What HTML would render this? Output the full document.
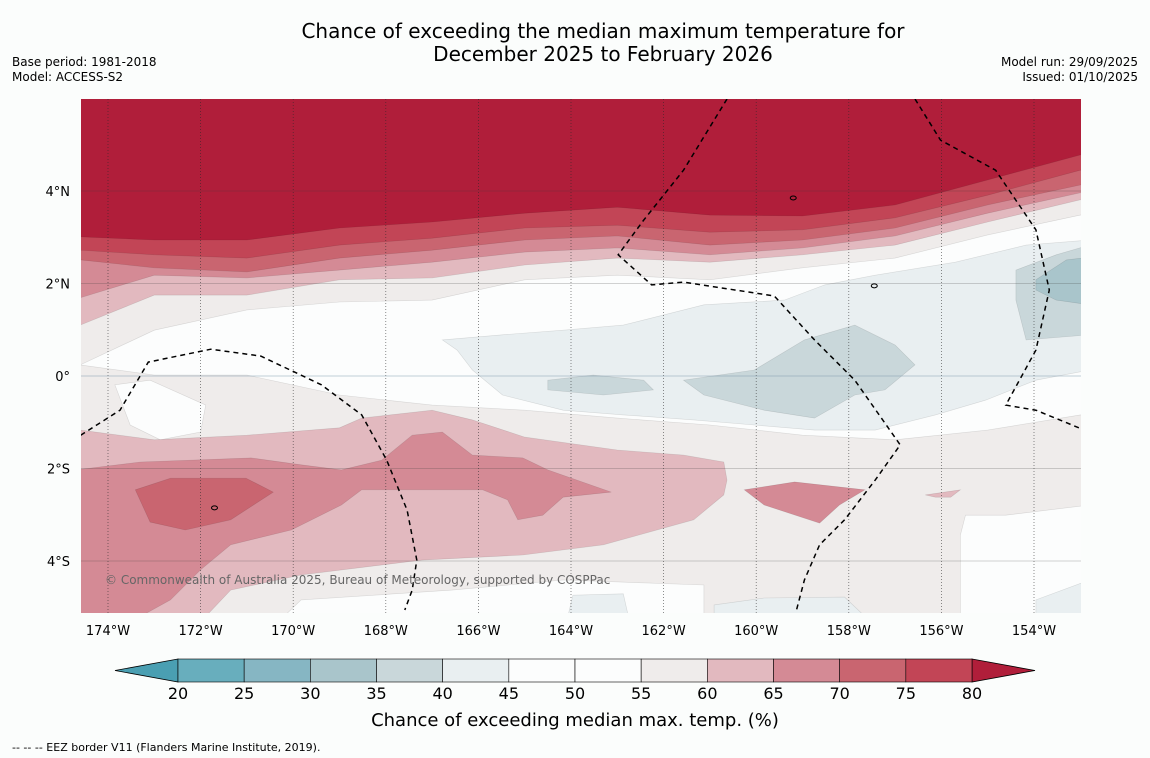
<!DOCTYPE html>
<html><head><meta charset="utf-8">
<style>
body{margin:0;background:#fbfdfc;font-family:"DejaVu Sans","Liberation Sans",sans-serif;}
#wrap{position:relative;width:1150px;height:758px;overflow:hidden;}
svg text{font-family:"DejaVu Sans","Liberation Sans",sans-serif;}
</style></head>
<body>
<div id="wrap">
<svg id="svg" width="1150" height="758" xmlns="http://www.w3.org/2000/svg">
<text x="603" y="38" font-size="20" text-anchor="middle" fill="#000">Chance of exceeding the median maximum temperature for</text>
<text x="603" y="61" font-size="20" text-anchor="middle" fill="#000">December 2025 to February 2026</text>
<text x="12" y="66" font-size="12">Base period: 1981-2018</text>
<text x="12" y="81" font-size="12">Model: ACCESS-S2</text>
<text x="1138" y="66" font-size="12" text-anchor="end">Model run: 29/09/2025</text>
<text x="1138" y="81" font-size="12" text-anchor="end">Issued: 01/10/2025</text>
<defs><clipPath id="mapclip"><rect x="81" y="99" width="1000" height="514"/></clipPath></defs>
<g id="map" clip-path="url(#mapclip)"></g>
<g id="axes"></g>
<g id="cbar"></g>
<text x="575" y="726" font-size="18" text-anchor="middle">Chance of exceeding median max. temp. (%)</text>
<text x="12" y="751" font-size="11">--  --  -- EEZ border V11 (Flanders Marine Institute, 2019).</text>
</svg>
</div>
<script>
// ---- data ----
const lonTicks = [-174,-172,-170,-168,-166,-164,-162,-160,-158,-156,-154];
const latTicks = [4,2,0,-2,-4];
const cbarLevels = [20,25,30,35,40,45,50,55,60,65,70,75,80];
const cbarColors = ["#68aebd","#86b6c3","#a9c5cb","#c9d7da","#e9eff1","#fcfdfd","#fcfdfd","#efeceb","#e2b9bf","#d48a95","#c96570","#c24556"];
const lowColor = "#4a9fb2", highColor = "#b01e3a";
const bandLons = [-174.6,-173,-171,-169,-167,-165,-163,-161,-159,-157,-155,-153,-152.85];
const top80 = [3.01,2.94,2.94,3.20,3.33,3.52,3.65,3.48,3.46,3.70,4.24,4.78,4.78];
const top75 = [2.72,2.62,2.55,2.83,2.98,3.20,3.26,3.11,3.16,3.42,3.91,4.45,4.45];
const top70 = [2.51,2.34,2.25,2.55,2.72,2.94,3.03,2.83,2.94,3.20,3.70,4.13,4.13];
const top65 = [1.69,2.18,2.12,2.29,2.46,2.68,2.77,2.62,2.77,3.03,3.52,3.96,3.96];
const top60 = [1.10,1.75,1.75,2.08,2.12,2.40,2.55,2.46,2.62,2.83,3.33,3.81,3.81];
const top55 = [0.24,0.99,1.43,1.60,1.64,2.08,2.18,2.08,2.34,2.55,3.05,3.48,3.48];
const bot55 = [0.24,0.02,0.02,-0.41,-0.63,-0.74,-0.91,-1.06,-1.28,-1.38,-1.17,-0.84,-0.84];
const p60a = [[-174.59,-1.17],[-173,-1.38],[-171,-1.28],[-169,-1.12],[-168.52,-0.91],[-167,-0.74],[-166.13,-0.95],[-165,-1.32],[-163,-1.60],[-161.57,-1.71],[-160.7,-1.86],[-160.63,-2.25],[-160.7,-2.57],[-161.35,-3.11],[-163.3,-3.65],[-165.04,-3.87],[-167.22,-3.98],[-169.83,-4.30],[-171.35,-4.63],[-171.89,-5.2],[-174.7,-5.2]];
const p60b = [[-156.35,-2.57],[-155.59,-2.46],[-155.8,-2.62],[-156.13,-2.62]];
const p65a = [[-174.7,-2.03],[-173.3,-1.86],[-170.91,-1.77],[-169.83,-1.92],[-168.96,-2.03],[-168.09,-1.82],[-167.43,-1.28],[-166.78,-1.21],[-166.13,-1.71],[-165.04,-1.77],[-164.5,-2.03],[-163.13,-2.51],[-164.17,-2.62],[-164.61,-3.01],[-165.15,-3.11],[-165.37,-2.68],[-165.91,-2.46],[-167.65,-2.46],[-168.52,-2.46],[-168.96,-2.79],[-170.04,-3.33],[-171.35,-3.65],[-172,-4.19],[-172.65,-4.84],[-173.3,-5.2],[-174.7,-5.2]];
const p65b = [[-160.26,-2.46],[-159.17,-2.29],[-157.65,-2.46],[-158.2,-2.79],[-158.63,-3.18],[-159.83,-2.79]];
const p70a = [[-173.41,-2.46],[-172.65,-2.21],[-171.02,-2.21],[-170.43,-2.51],[-171.35,-3.11],[-172.33,-3.33],[-173.09,-3.16]];
const w50a = [[-173.85,-0.19],[-173.09,-0.09],[-171.89,-0.63],[-172,-1.21],[-172.87,-1.38],[-173.52,-1.06]];
const w50b = [[-155.59,-3.44],[-155.48,-3.01],[-154.61,-3.01],[-152.8,-2.79],[-152.8,-5.2],[-155.59,-5.2]];
const w50c = [[-170.2,-5.2],[-169.83,-4.84],[-166.57,-4.63],[-164.17,-4.41],[-161.13,-4.52],[-161.13,-5.2]];
const b40a = [[-166.78,0.78],[-165.48,0.89],[-164.17,0.99],[-162.87,1.10],[-161.13,1.54],[-159.39,1.64],[-158.52,1.97],[-157.43,2.18],[-155.7,2.46],[-154.17,2.83],[-152.8,2.94],[-152.8,0.13],[-153.96,-0.09],[-155.04,-0.52],[-156.13,-0.84],[-157.43,-1.17],[-158.74,-1.17],[-160.04,-1.06],[-161.35,-0.95],[-162.87,-0.84],[-164.17,-0.74],[-165.48,-0.41],[-166.13,0.13],[-166.46,0.56]];
const b40b = [[-160.91,-4.95],[-159.83,-4.80],[-158.09,-4.78],[-157.65,-5.2],[-160.91,-5.2]];
const b40c = [[-163.96,-4.74],[-162.87,-4.71],[-162.76,-5.2],[-164.07,-5.2]];
const b40d = [[-153.96,-4.84],[-152.8,-4.41],[-152.8,-5.2],[-153.96,-5.2]];
const b35a = [[-161.57,-0.09],[-160.04,0.13],[-158.96,0.78],[-157.87,1.10],[-157,0.67],[-156.57,0.24],[-157.22,-0.30],[-157.87,-0.41],[-158.74,-0.91],[-159.83,-0.74],[-161.13,-0.41]];
const b35b = [[-164.5,-0.09],[-163.52,0.02],[-162.43,-0.09],[-162.22,-0.30],[-163.3,-0.41],[-164.5,-0.30]];
const b35c = [[-154.39,2.29],[-153.52,2.62],[-152.8,2.83],[-152.8,0.89],[-154.17,0.78],[-154.39,1.64]];
const b30a = [[-153.96,2.08],[-153.3,2.51],[-152.8,2.57],[-152.8,1.54],[-153.52,1.64],[-153.96,1.86]];
const eez1 = [[-174.59,-1.28],[-173.74,-0.74],[-173.13,0.30],[-171.78,0.58],[-170.7,0.43],[-169.39,-0.19],[-168.52,-0.84],[-167.98,-1.82],[-167.54,-2.90],[-167.33,-3.98],[-167.43,-4.63],[-167.59,-5.06]];
const eez2 = [[-160.63,5.99],[-161.57,4.45],[-162.43,3.37],[-162.98,2.62],[-162.26,1.97],[-161.57,2.03],[-159.61,1.73],[-158.74,0.78],[-157.87,-0.09],[-156.89,-1.49],[-157.43,-2.25],[-158.09,-3.11],[-158.63,-3.65],[-158.96,-4.41],[-159.13,-5.06]];
const eez3 = [[-156.57,5.99],[-156.02,5.10],[-154.83,4.45],[-153.96,3.16],[-153.67,1.86],[-153.96,0.56],[-154.61,-0.63],[-153.96,-0.74],[-152.91,-1.17]];

// ---- axes functions ----
const X0=81,X1=1081,Y0=99,Y1=613;
const LONPX=46.3, LON0=-174-27/46.3, LATPX=46.25, EQY=376;
const xs = lon => X0 + (lon-LON0)*LONPX;
const ys = lat => EQY - lat*LATPX;
const NS="http://www.w3.org/2000/svg";
const map=document.getElementById('map'), axes=document.getElementById('axes'), cbar=document.getElementById('cbar');
function mk(tag,attrs,parent){const e=document.createElementNS(NS,tag);for(const k in attrs)e.setAttribute(k,attrs[k]);parent.appendChild(e);return e;}
function ptsStr(pts){return pts.map(p=>xs(p[0]).toFixed(1)+','+ys(p[1]).toFixed(1)).join(' ');}
function topBand(lats,color,name){
  const pts=bandLons.map((l,i)=>[l,lats[i]]);
  pts.push([-152.5,6.2]);pts.push([-174.7,6.2]);
  const e=mk('polygon',{points:ptsStr(pts),fill:color,stroke:'rgba(0,0,0,0.12)','stroke-width':0.6},map);
  
  
}
function poly(pts,color,name){
  const e=mk('polygon',{points:ptsStr(pts),fill:color,stroke:'rgba(0,0,0,0.12)','stroke-width':0.6},map);
  
  
}
const bg=mk('rect',{x:X0,y:Y0,width:X1-X0,height:Y1-Y0,fill:cbarColors[5]},map);


topBand(top55,cbarColors[7],'band-55-60-north');
topBand(top60,cbarColors[8],'band-60-65-north');
topBand(top65,cbarColors[9],'band-65-70-north');
topBand(top70,cbarColors[10],'band-70-75-north');
topBand(top75,cbarColors[11],'band-75-80-north');
topBand(top80,highColor,'band-above-80-north');
{const pts=bandLons.map((l,i)=>[l,bot55[i]]);pts.push([-152.5,-5.2]);pts.push([-174.7,-5.2]);poly(pts,cbarColors[7],'band-55-60-south');}
poly(w50a,cbarColors[5],'region-45-55-west');
poly(w50b,cbarColors[5],'region-45-55-southeast');
poly(w50c,cbarColors[5],'region-45-55-south');
poly(p60a,cbarColors[8],'region-60-65-southwest');
poly(p60b,cbarColors[8],'region-60-65-small');
poly(p65a,cbarColors[9],'region-65-70-southwest');
poly(p65b,cbarColors[9],'region-65-70-southeast');
poly(p70a,cbarColors[10],'region-70-75-southwest');
poly(b40a,cbarColors[4],'region-40-45-central');
poly(b40b,cbarColors[4],'region-40-45-south-a');
poly(b40c,cbarColors[4],'region-40-45-south-b');
poly(b40d,cbarColors[4],'region-40-45-south-c');
poly(b35a,cbarColors[3],'region-35-40-a');
poly(b35b,cbarColors[3],'region-35-40-b');
poly(b35c,cbarColors[3],'region-35-40-c');
poly(b30a,cbarColors[2],'region-30-35');
lonTicks.forEach(l=>{
  const g=mk('line',{x1:xs(l),x2:xs(l),y1:Y0,y2:Y1,stroke:'rgba(40,40,40,0.75)','stroke-width':0.7,'stroke-dasharray':'1,2'},map);
  
  
  const t=mk('text',{x:xs(l),y:Y1+22,'font-size':13,'text-anchor':'middle'},axes);
  t.textContent=Math.abs(l)+'°W';
  
  
});
latTicks.forEach(l=>{
  const g=mk('line',{x1:X0,x2:X1,y1:ys(l),y2:ys(l),stroke:l===0?'rgba(120,150,170,0.6)':'rgba(60,60,60,0.3)','stroke-width':0.8},map);
  
  
  const t=mk('text',{x:70,y:ys(l)+5,'font-size':13,'text-anchor':'end'},axes);
  t.textContent=l===0?'0°':Math.abs(l)+'°'+(l>0?'N':'S');
  
  
});
[eez1,eez2,eez3].forEach((p,i)=>{
  const e=mk('polyline',{points:ptsStr(p),fill:'none',stroke:'#000','stroke-width':1.5,'stroke-dasharray':'5,4'},map);
  
  
});
[[-159.2,3.85],[-157.45,1.95],[-171.7,-2.85]].forEach(p=>{
  const e=mk('ellipse',{cx:xs(p[0]),cy:ys(p[1]),rx:3,ry:2,fill:'none',stroke:'#000','stroke-width':1},map);
  
  
});
const cr=mk('text',{x:105,y:584,'font-size':12,fill:'#666'},map);
cr.textContent='© Commonwealth of Australia 2025, Bureau of Meteorology, supported by COSPPac';


const CB0=178,CB1=972,CBY=659,CBH=23;
const cbx=v=>CB0+(v-cbarLevels[0])/(cbarLevels[cbarLevels.length-1]-cbarLevels[0])*(CB1-CB0);
const lt=mk('polygon',{points:`${CB0},${CBY} 115,${CBY+CBH/2} ${CB0},${CBY+CBH}`,fill:lowColor,stroke:'#000','stroke-width':0.8},cbar);


const rt=mk('polygon',{points:`${CB1},${CBY} 1035,${CBY+CBH/2} ${CB1},${CBY+CBH}`,fill:highColor,stroke:'#000','stroke-width':0.8},cbar);


cbarColors.forEach((c,i)=>{
  const r=mk('rect',{x:cbx(cbarLevels[i]),y:CBY,width:cbx(cbarLevels[i+1])-cbx(cbarLevels[i]),height:CBH,fill:c,stroke:'#000','stroke-width':0.6},cbar);
  
  
});
cbarLevels.forEach(v=>{
  const t=mk('text',{x:cbx(v),y:699,'font-size':16,'text-anchor':'middle'},cbar);
  t.textContent=v;
  
  
});
</script>
</body></html>
